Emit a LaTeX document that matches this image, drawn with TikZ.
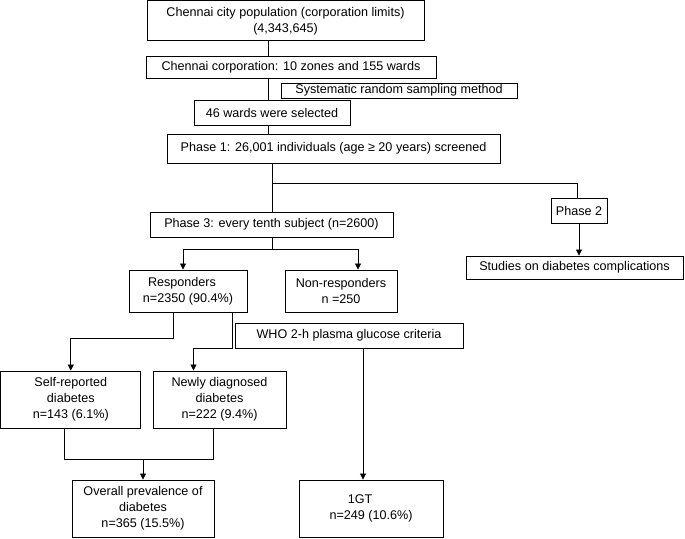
\documentclass[tikz,border=0pt]{standalone}
\usepackage{fontspec}
\setmainfont{Liberation Sans}
\usetikzlibrary{arrows.meta}

\begin{document}
\begin{tikzpicture}[x=1pt,y=-1pt,line width=0.8pt,
	box/.style={draw, line width=0.9pt, align=center, inner sep=0pt,
		font=\fontsize{12.6}{16}\selectfont},
	arr/.style={-{Triangle[length=6pt,width=6pt]}}]
		\useasboundingbox (0,0) rectangle (685,538);
		
		\node[box, minimum width=277pt, minimum height=40pt] (city) at (285.5,20.8)
			{Chennai city population (corporation limits)\\(4,343,645)};
		\node[box, minimum width=290pt, minimum height=22pt] (corp) at (291,67)
			{Chennai corporation: 10 zones and 155 wards};
		\node[box, minimum width=236pt, minimum height=15pt] (samp) at (399,90.5)
			{Systematic random sampling method};
		\node[box, minimum width=156pt, minimum height=25pt] (wards) at (272,112.5)
			{46 wards were selected};
		\node[box, minimum width=333pt, minimum height=29pt] (ph1) at (333.5,148.5)
			{Phase 1: 26,001 individuals (age ≥ 20 years) screened};
		
		\node[box, minimum width=243pt, minimum height=25pt] (ph3) at (271.5,224.5)
			{Phase 3: every tenth subject (n=2600)};
		\node[box, minimum width=56pt, minimum height=25pt] (ph2) at (579,210.5)
			{Phase 2};
		\node[box, minimum width=217pt, minimum height=23pt] (stud) at (574.5,267.5)
			{Studies on diabetes complications};
		
		\node[box, minimum width=118pt, minimum height=42pt] (resp) at (188,291)
			{Responders\hspace*{12pt}\\n=2350 (90.4\%)};
		\node[box, minimum width=112pt, minimum height=42pt] (nonresp) at (341,291)
			{Non-responders\\n =250};
		\node[box, minimum width=228pt, minimum height=25pt] (who) at (349,335.5)
			{WHO 2-h plasma glucose criteria};
		
		\node[box, minimum width=140pt, minimum height=57pt] (self) at (70.8,399.5)
			{Self-reported\\diabetes\\n=143 (6.1\%)};
		\node[box, minimum width=133pt, minimum height=57pt] (newly) at (219.5,399.5)
			{Newly diagnosed\\diabetes\\n=222 (9.4\%)};
		\node[box, minimum width=142pt, minimum height=57pt] (overall) at (143,508.5)
			{Overall prevalence of\\diabetes\\n=365 (15.5\%)};
		\node[box, minimum width=144pt, minimum height=57pt] (igt) at (371,508.5)
			{1GT\hspace*{22pt}\\n=249 (10.6\%)};
		
		% top spine
		\coordinate (spine) at (268,0);
		\draw (city.south -| spine) -- (corp.north -| spine);
		\draw (corp.south -| spine) -- (wards.north -| spine);
		\draw (wards.south -| spine) -- (ph1.north -| spine);
		
		% phase split
		\coordinate (split) at (272,183);
		\draw (ph1.south -| split) -- (ph3.north -| split);
		\draw (split) -| ([xshift=-2pt]ph2.north);
		\draw[arr] (ph2.south) -- (stud.north -| ph2.south);
		
		\coordinate (fork) at (272,249);
		\draw (ph3.south -| fork) -- (fork);
		\draw[arr] (fork) -| ([xshift=-5pt]resp.north);
		\draw[arr] (fork) -| ([xshift=17pt]nonresp.north);
		
		% responders
		\draw[arr] ([xshift=-15pt]resp.south) -- ++(0,26) -| (self.north);
		\draw[arr] ([xshift=44pt]resp.south) -- ++(0,36) -| ([xshift=-26pt]newly.north);
		\coordinate (who2) at ([xshift=14pt]who.south);
		\draw[arr] (who2) -- (who2 |- igt.north);
		
		\draw ([xshift=-6pt]self.south) -- ++(0,31) -| ([xshift=-6pt]newly.south);
		\coordinate (join) at (143,459);
		\draw[arr] (join) -- (overall.north);
		
	\end{tikzpicture}
\end{document}
